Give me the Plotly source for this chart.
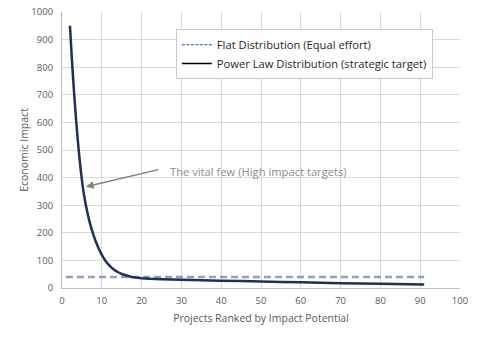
import plotly.graph_objects as go

# Data
flat_x = [1, 91]
flat_y = [40, 40]

power_x = [2, 2.5, 3, 3.5, 4, 4.5, 5, 5.5, 6, 7, 8, 9, 10, 11, 12, 13, 14, 15, 16, 17, 18, 19, 20,
           22, 25, 30, 40, 50, 60, 70, 80, 91]
power_y = [950, 825, 715, 617, 530, 455, 392, 340, 300, 236, 188, 150, 120, 97, 80, 67, 58, 51, 46, 42, 39, 37, 35.5,
           33.5, 32, 30, 26.5, 23.5, 20.5, 17.5, 15, 12.5]

flat_name = "Flat Distribution (Equal effort)"
power_name = "Power Law Distribution (strategic target)"
annot_text = "The vital few (High impact targets)"
x_title = "Projects Ranked by Impact Potential"
y_title = "Economic Impact"

FONT = "Open Sans"

fig = go.Figure()
# visible lines
fig.add_trace(go.Scatter(x=flat_x, y=flat_y, mode="lines", showlegend=False,
                         line=dict(color="#8fa2bd", width=2.5, dash="7px,4px")))
fig.add_trace(go.Scatter(x=power_x, y=power_y, mode="lines", showlegend=False,
                         line=dict(color="#1f2f57", width=2.5, shape="spline", smoothing=0.5)))
# legend entries
fig.add_trace(go.Scatter(x=[None], y=[None], mode="lines", name=flat_name,
                         line=dict(color="#4472c4", width=1.2, dash="3px,1.5px")))
fig.add_trace(go.Scatter(x=[None], y=[None], mode="lines", name=power_name,
                         line=dict(color="#000000", width=1.5)))

fig.add_annotation(x=6.0, y=367, ax=24.6, ay=430, axref="x", ayref="y",
                   xref="x", yref="y", text="", showarrow=True,
                   arrowhead=2, arrowsize=1.2, arrowwidth=1.3, arrowcolor="#808080")
fig.add_annotation(x=26.6, y=422, xref="x", yref="y", text=annot_text,
                   showarrow=False, xanchor="left", yanchor="middle",
                   font=dict(family=FONT, size=11.2, color="#8c8c8c"))

fig.update_layout(
    width=480, height=340,
    margin=dict(l=62, r=20, t=12, b=52, autoexpand=False),
    paper_bgcolor="white", plot_bgcolor="white",
    font=dict(family=FONT, size=9.5, color="#595959"),
    legend=dict(x=0.286, y=0.938, xanchor="left", yanchor="top",
                bgcolor="white", bordercolor="#c8c8c8", borderwidth=1,
                font=dict(family=FONT, size=11.2, color="#262626"),
                tracegroupgap=0),
    xaxis=dict(range=[0, 100], dtick=10, tick0=0, showgrid=True, gridcolor="#d9d9d9",
               showline=True, linecolor="#bfbfbf", zeroline=False, ticks="",
               ticklabelstandoff=4, automargin=False,
               title=dict(text=x_title, standoff=8, font=dict(size=10.5, color="#595959"))),
    yaxis=dict(range=[0, 1000], dtick=100, tick0=0, showgrid=True, gridcolor="#d9d9d9",
               showline=True, linecolor="#bfbfbf", zeroline=False, ticks="",
               ticklabelstandoff=6, automargin=False,
               title=dict(text=y_title, standoff=0, font=dict(size=10.5, color="#595959"))),
)

fig.write_html("out.html")
